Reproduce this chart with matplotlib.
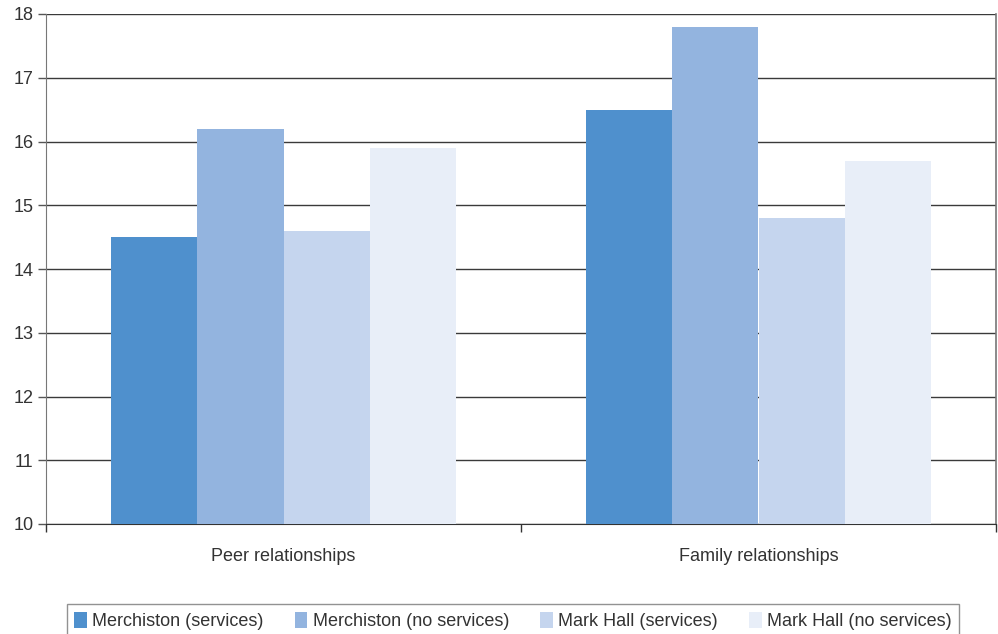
import matplotlib
matplotlib.use("Agg")
import matplotlib.pyplot as plt
from matplotlib.patches import Patch
import numpy as np

categories = ["Peer relationships", "Family relationships"]
series_names = ["Merchiston (services)", "Merchiston (no services)",
                "Mark Hall (services)", "Mark Hall (no services)"]
merchiston_services = [14.5, 16.5]
merchiston_no_services = [16.2, 17.8]
markhall_services = [14.6, 14.8]
markhall_no_services = [15.9, 15.7]
colors = ["#4F90CD", "#93B4DF", "#C5D5EE", "#E8EEF8"]
yticks = [10, 11, 12, 13, 14, 15, 16, 17, 18]

plt.rcParams['font.family'] = ['Liberation Sans', 'DejaVu Sans']

fig = plt.figure(figsize=(9.98, 6.34), dpi=100)
ax = fig.add_axes([46/998, 1-524/634, (996-46)/998, (524-14)/634])

series = [merchiston_services, merchiston_no_services, markhall_services, markhall_no_services]
x = np.arange(len(categories))
w = 0.182
offsets = np.array([-1.5, -0.5, 0.5, 1.5]) * w
for vals, off, c, name in zip(series, offsets, colors, series_names):
    ax.bar(x + off, np.array(vals) - 10, bottom=10, width=w, color=c, label=name, zorder=3)

ax.set_xlim(-0.5, 1.5)
ax.set_ylim(10, 18)
ax.set_yticks(yticks)
ax.yaxis.grid(True, color="#3a3a3a", linewidth=1.0, zorder=0)
ax.set_axisbelow(True)

ax.set_xticks([-0.5, 0.5, 1.5])
ax.set_xticklabels([])
ax.set_xticks(x, minor=True)
ax.set_xticklabels(categories, minor=True)
ax.tick_params(axis='x', which='minor', length=0, pad=17, labelsize=13, colors="#333333")
ax.tick_params(axis='x', which='major', length=6, width=1, color="#333333", direction='out')
ax.tick_params(axis='y', length=6, width=1, color="#555555", labelsize=13, labelcolor="#333333", pad=3)

ax.spines['top'].set_visible(False)
ax.spines['left'].set_color("#777777")
ax.spines['right'].set_color("#777777")
ax.spines['right'].set_linewidth(1.2)
ax.spines['bottom'].set_color("#333333")

handles = [Patch(facecolor=c, edgecolor='none') for c in colors]
leg = fig.legend(handles, series_names, loc='lower left',
                 bbox_to_anchor=(58/998, -0.019, (968-58)/998, 0.08),
                 mode='expand', ncol=4, frameon=True, fancybox=False,
                 fontsize=13, handlelength=0.7, handleheight=1.0, handletextpad=0.3,
                 columnspacing=1.5, borderpad=0.4, labelcolor="#333333")
leg.get_frame().set_edgecolor("#777777")
leg.get_frame().set_linewidth(1.0)

fig.savefig("out.png", dpi=100)
